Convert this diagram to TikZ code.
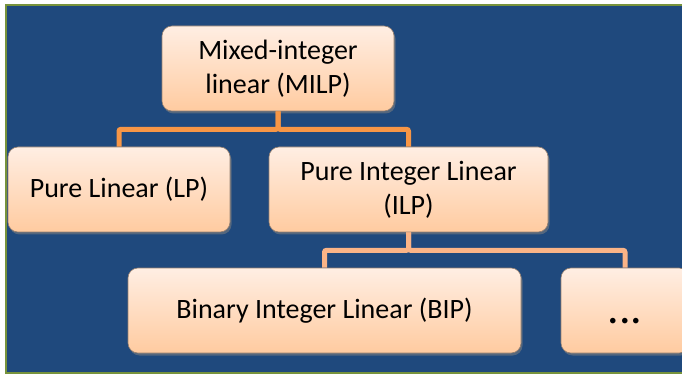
\documentclass[tikz,border=0pt]{standalone}
\usepackage{fontspec}
\setmainfont{Carlito}
\usetikzlibrary{shadows}
\definecolor{bgblue}{RGB}{31,73,125}
\definecolor{framegreen}{RGB}{119,147,60}
\definecolor{linkorange}{RGB}{247,150,70}
\definecolor{linkpeach}{RGB}{250,180,135}
\definecolor{peachtop}{RGB}{255,238,227}
\definecolor{peachbot}{RGB}{255,203,160}
\definecolor{peachedge}{RGB}{150,128,112}

\begin{document}
\begin{tikzpicture}[x=1pt,y=1pt,
  font=\fontsize{28}{34}\selectfont,
  link/.style={line width=5pt,rounded corners=2pt}]
\tikzstyle{box}=[rounded corners=10pt,draw=peachedge,line width=0.6pt,
  top color=peachtop,bottom color=peachbot,
  drop shadow={shadow xshift=1.5pt,shadow yshift=-2.5pt,opacity=0.55},
  inner sep=0pt,align=center,minimum height=85pt]
\useasboundingbox (0,0) rectangle (682,375);
\draw[framegreen,fill=bgblue,line width=2.5pt] (6,370) rectangle (700,2);
\node[box,minimum width=232pt] (milp) at (278,306.5) {Mixed-integer\\linear (MILP)};
\node[box,minimum width=222pt] (lp) at (119,185.5) {Pure Linear (LP)};
\node[box,minimum width=279pt] (ilp) at (408.5,185.5) {Pure Integer Linear\\(ILP)};
\node[box,minimum width=393pt] (bip) at (324.5,64.5) {Binary Integer Linear (BIP)};
\node[box,minimum width=128pt,font=\fontsize{46}{50}\selectfont,
  text height=25.6pt,text depth=0pt] (more) at (625,64.5) {...};
\draw[link,linkorange] (milp.south) -- ++(0,-18) -| (lp.north);
\draw[link,linkorange] (milp.south) -- ++(0,-18) -| (ilp.north);
\draw[link,linkpeach] (ilp.south) -- ++(0,-18) -| (bip.north);
\draw[link,linkpeach] (ilp.south) -- ++(0,-18) -| (more.north);
\end{tikzpicture}
\end{document}
